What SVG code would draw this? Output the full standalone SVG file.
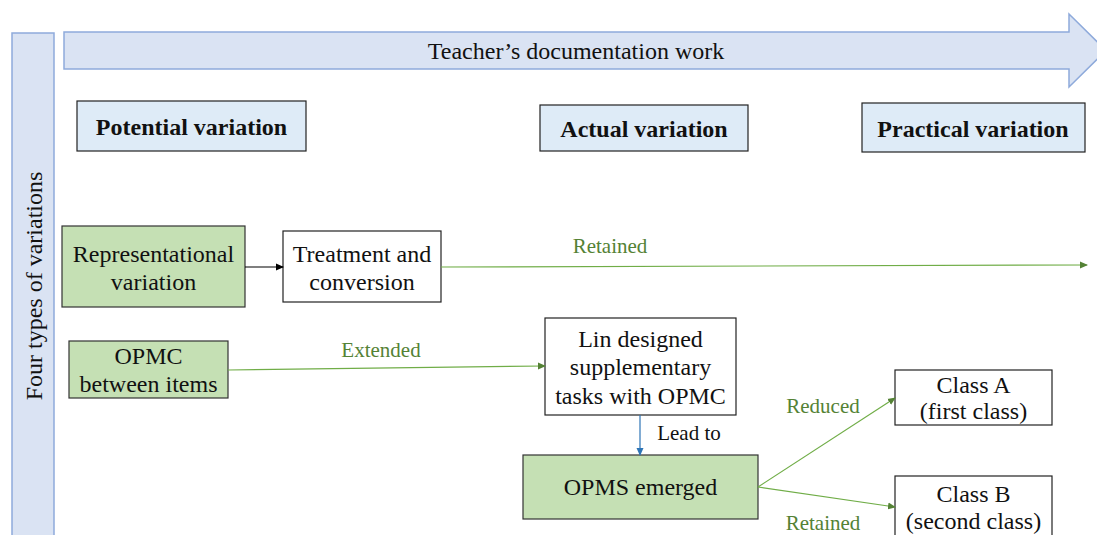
<svg xmlns="http://www.w3.org/2000/svg" width="1097" height="535" viewBox="0 0 1097 535">
<style>
text{font-family:"Liberation Serif","Times New Roman",serif;fill:#111;}
.hdr{fill:#deebf7;stroke:#222;stroke-width:1.2;}
.grn{fill:#c5e0b4;stroke:#333;stroke-width:1.2;}
.wht{fill:#fff;stroke:#222;stroke-width:1.2;}
.band{fill:#dae3f3;stroke:#8eaadb;stroke-width:1.5;}
.b{font-weight:bold;font-size:24px;}
.n{font-size:24px;}
.lbl{font-size:21px;fill:#548235;}
.gl{stroke:#70ad47;stroke-width:1.2;fill:none;}
</style>
<defs>
<marker id="ag" markerWidth="8" markerHeight="8" refX="7" refY="4" orient="auto" markerUnits="userSpaceOnUse"><path d="M0,0.5 L8,4 L0,7.5 Z" fill="#548235"/></marker>
<marker id="ak" markerWidth="8" markerHeight="8" refX="7" refY="4" orient="auto" markerUnits="userSpaceOnUse"><path d="M0,0.5 L8,4 L0,7.5 Z" fill="#000"/></marker>
<marker id="ab" markerWidth="8" markerHeight="8" refX="7" refY="4" orient="auto" markerUnits="userSpaceOnUse"><path d="M0,0.5 L8,4 L0,7.5 Z" fill="#2e75b6"/></marker>
</defs>
<g id="side-band"><rect class="band" x="12" y="33" width="42" height="520"/><text transform="translate(42,286) rotate(-90)" text-anchor="middle" font-size="24">Four types of variations</text></g>
<g id="top-arrow"><path class="band" d="M64,32 L1069,32 L1069,14 L1106,50.5 L1069,87 L1069,69 L64,69 Z"/><text x="576" y="59" text-anchor="middle" font-size="24">Teacher’s documentation work</text></g>
<g id="potential"><rect class="hdr" x="77" y="101" width="229" height="50"/><text class="b" x="191.5" y="135" text-anchor="middle">Potential variation</text></g>
<g id="actual"><rect class="hdr" x="540" y="105" width="208" height="46"/><text class="b" x="644" y="137" text-anchor="middle">Actual variation</text></g>
<g id="practical"><rect class="hdr" x="862" y="103" width="223" height="49"/><text class="b" x="973" y="137" text-anchor="middle">Practical variation</text></g>
<g id="representational"><rect class="grn" x="62" y="226" width="183" height="81"/><text class="n" x="153.5" y="262" text-anchor="middle">Representational</text><text class="n" x="153.5" y="290" text-anchor="middle">variation</text></g>
<g id="treatment"><rect class="wht" x="283" y="231" width="158" height="71"/><text class="n" x="362" y="262" text-anchor="middle">Treatment and</text><text class="n" x="362" y="290" text-anchor="middle">conversion</text></g>
<g id="opmc"><rect class="grn" x="69" y="341" width="159" height="57"/><text class="n" x="148.5" y="364" text-anchor="middle">OPMC</text><text class="n" x="148.5" y="392" text-anchor="middle">between items</text></g>
<g id="lin"><rect class="wht" x="545" y="318" width="191" height="97"/><text class="n" x="640.5" y="347" text-anchor="middle">Lin designed</text><text class="n" x="640.5" y="375" text-anchor="middle">supplementary</text><text class="n" x="640.5" y="404" text-anchor="middle">tasks with OPMC</text></g>
<g id="opms"><rect class="grn" x="523" y="455" width="235" height="64"/><text class="n" x="640.5" y="495" text-anchor="middle">OPMS emerged</text></g>
<g id="classA"><rect class="wht" x="895" y="370" width="157" height="55"/><text class="n" x="973.5" y="393" text-anchor="middle">Class A</text><text class="n" x="973.5" y="419" text-anchor="middle">(first class)</text></g>
<g id="classB"><rect class="wht" x="895" y="476" width="157" height="70"/><text class="n" x="973.5" y="502" text-anchor="middle">Class B</text><text class="n" x="973.5" y="529" text-anchor="middle">(second class)</text></g>
<g id="connectors">
<line x1="245" y1="267" x2="283" y2="267" stroke="#000" stroke-width="1.2" marker-end="url(#ak)"/>
<line class="gl" x1="441" y1="267" x2="1087" y2="265" marker-end="url(#ag)"/>
<text class="lbl" x="610" y="253" text-anchor="middle">Retained</text>
<line class="gl" x1="228" y1="370" x2="545" y2="366" marker-end="url(#ag)"/>
<text class="lbl" x="381" y="357" text-anchor="middle">Extended</text>
<line x1="640" y1="415" x2="640" y2="455" stroke="#2e75b6" stroke-width="1.2" marker-end="url(#ab)"/>
<text x="689" y="440" text-anchor="middle" font-size="21">Lead to</text>
<line class="gl" x1="758" y1="487" x2="895" y2="398" marker-end="url(#ag)"/>
<text class="lbl" x="823" y="413" text-anchor="middle">Reduced</text>
<line class="gl" x1="758" y1="487" x2="895" y2="507" marker-end="url(#ag)"/>
<text class="lbl" x="823" y="530" text-anchor="middle">Retained</text>
</g>
</svg>
